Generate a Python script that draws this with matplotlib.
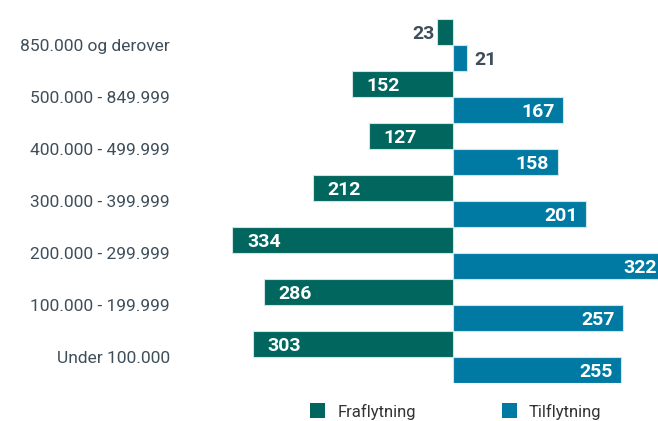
import matplotlib
matplotlib.use("Agg")
import matplotlib.pyplot as plt
from matplotlib.patches import Rectangle

categories = ["850.000 og derover", "500.000 - 849.999", "400.000 - 499.999",
              "300.000 - 399.999", "200.000 - 299.999", "100.000 - 199.999",
              "Under 100.000"]
fraflytning = [23, 152, 127, 212, 334, 286, 303]
tilflytning = [21, 167, 158, 201, 322, 257, 255]
series_names = ["Fraflytning", "Tilflytning"]

c_fra = "#00665E"
c_til = "#007AA3"
c_text = "#3E4E5A"
edge = "#CFE4E4"

plt.rcParams['font.family'] = ['Roboto', 'DejaVu Sans']

W, H = 658, 421
fig = plt.figure(figsize=(W / 100, H / 100), dpi=100)

# axes geometry in pixels
x0 = 453.0
scale = 0.659
xmin, xmax = -400, 400
left_px = x0 + xmin * scale
right_px = x0 + xmax * scale
top_px, bot_px = 19, 383
ax = fig.add_axes([left_px / W, 1 - bot_px / H, (right_px - left_px) / W, (bot_px - top_px) / H])
ax.set_xlim(xmin, xmax)
ax.set_ylim(len(categories) - 0.5, -0.5)
for s in ax.spines.values():
    s.set_visible(False)
ax.set_xticks([])

ys = list(range(len(categories)))
h = 0.5
ax.barh([y - 0.25 for y in ys], [-v for v in fraflytning], height=h, left=-0.6,
        color=c_fra, edgecolor=edge, linewidth=0.8, label=series_names[0])
ax.barh([y + 0.25 for y in ys], tilflytning, height=h, left=0.6,
        color=c_til, edgecolor=edge, linewidth=0.8, label=series_names[1])

px = 1 / scale  # data units per pixel
fs_val = 14
for y, v in zip(ys, fraflytning):
    if v > 60:
        ax.text(-v + 14 * px, y - 0.25, str(v), ha='left', va='center_baseline',
                color='white', fontsize=fs_val, fontweight='bold')
    else:
        ax.text(-v - 3 * px, y - 0.25, str(v), ha='right', va='center_baseline',
                color=c_text, fontsize=fs_val, fontweight='bold')
for y, v in zip(ys, tilflytning):
    if v > 60:
        ax.text(v - 8 * px, y + 0.25, str(v), ha='right', va='center_baseline',
                color='white', fontsize=fs_val, fontweight='bold')
    else:
        ax.text(v + 8 * px, y + 0.25, str(v), ha='left', va='center_baseline',
                color=c_text, fontsize=fs_val, fontweight='bold')

ax.set_yticks(ys)
ax.set_yticklabels(categories, fontsize=12.5, color=c_text)
ax.tick_params(axis='y', length=0, pad=(left_px - 170) * 0.72)

# legend (manual, figure pixel coords)
def fx(p):
    return p / W
def fy(p):
    return 1 - p / H
for sx, tx, col, name in [(310, 338, c_fra, series_names[0]), (502, 529, c_til, series_names[1])]:
    fig.patches.append(Rectangle((fx(sx), fy(418)), 15 / W, 15 / H, transform=fig.transFigure,
                                 facecolor=col, edgecolor='none'))
    fig.text(fx(tx), fy(410), name, ha='left', va='center_baseline', fontsize=12, color='#333333')

fig.savefig("out.png", dpi=100)
